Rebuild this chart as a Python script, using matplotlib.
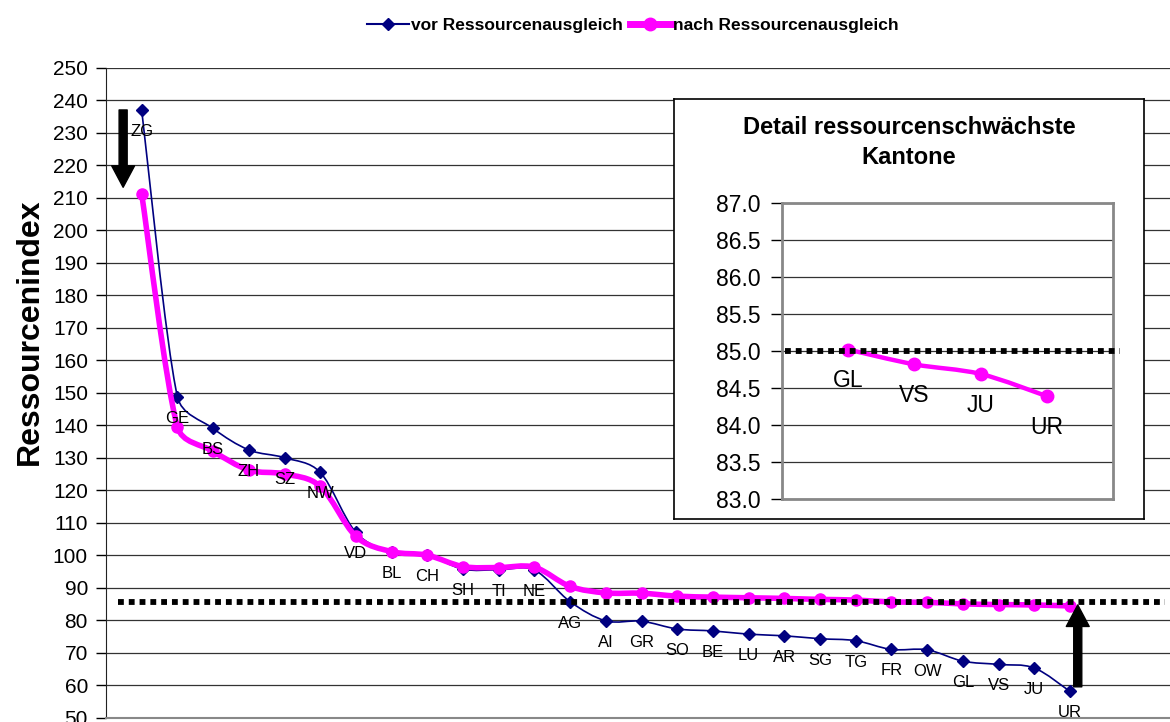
import numpy as np
import matplotlib
matplotlib.use('Agg')
import matplotlib.pyplot as plt
from matplotlib.path import Path
from matplotlib.patches import PathPatch
from matplotlib.lines import Line2D

plt.rcParams['font.family'] = ['Liberation Sans', 'DejaVu Sans']

# Daten
kantone = ['ZG', 'GE', 'BS', 'ZH', 'SZ', 'NW', 'VD', 'BL', 'CH', 'SH', 'TI', 'NE', 'AG', 'AI',
           'GR', 'SO', 'BE', 'LU', 'AR', 'SG', 'TG', 'FR', 'OW', 'GL', 'VS', 'JU', 'UR']
vor = [236.9, 148.8, 139.0, 132.4, 130.0, 125.5, 107.0, 101.0, 100.0, 95.7, 95.5, 95.4, 85.7, 79.8,
       79.7, 77.3, 76.7, 75.7, 75.2, 74.3, 73.7, 71.0, 70.9, 67.4, 66.4, 65.3, 58.1]
nach = [211.1, 139.5, 132.0, 126.2, 125.0, 121.2, 105.8, 101.1, 100.0, 96.5, 96.2, 96.3, 90.4, 88.4,
        88.3, 87.4, 87.1, 86.9, 86.7, 86.4, 86.2, 85.6, 85.5, 85.02, 84.82, 84.69, 84.39]
schwelle = 85.0
detail_n = 4  # die letzten vier Kantone im Detail

BLAU = '#000080'
PINK = '#FF00FF'


def smooth_path(ax, x, y, limit=0.4):
    # Bezier-Glaettung aehnlich Excel, in Pixeln gerechnet, Tangenten begrenzt
    pts = ax.transData.transform(np.column_stack([x, y]).astype(float))
    n = len(pts)
    verts = [pts[0]]
    codes = [Path.MOVETO]

    def tang(a, b, seg):
        t = (b - a) / 6.0
        L = np.hypot(*t)
        m = limit * seg
        if L > m and L > 0:
            t = t * m / L
        return t

    for i in range(n - 1):
        p0 = pts[i - 1] if i > 0 else pts[i]
        p1 = pts[i]
        p2 = pts[i + 1]
        p3 = pts[i + 2] if i + 2 < n else pts[i + 1]
        seg = np.hypot(*(p2 - p1))
        verts += [p1 + tang(p0, p2, seg), p2 - tang(p1, p3, seg), p2]
        codes += [Path.CURVE4] * 3
    verts = ax.transData.inverted().transform(np.array(verts))
    return Path(verts, codes)


W, H = 1170, 722
fig = plt.figure(figsize=(W / 100, H / 100), dpi=100)

def px_rect(x0, y0, x1, y1):
    return [x0 / W, 1 - y1 / H, (x1 - x0) / W, (y1 - y0) / H]

ax = fig.add_axes(px_rect(106, 67.7, 1170, 717.7))
xs = np.arange(1, len(kantone) + 1)

ax.set_ylim(50, 250)
ax.set_xlim(0, 1 + (1170 - 141.7) / 35.7)
ax.set_yticks(np.arange(50, 251, 10))
ax.set_xticks([])
ax.tick_params(axis='y', labelsize=15, length=7, width=1, pad=6, direction='out')
ax.yaxis.grid(True, color='#333333', lw=0.9, zorder=0)
ax.set_axisbelow(True)
for s in ['top', 'right']:
    ax.spines[s].set_visible(False)
ax.spines['left'].set_color('#222222')
ax.spines['bottom'].set_color('#888888')
ax.spines['bottom'].set_linewidth(1.5)

# Linien
ax.add_patch(PathPatch(smooth_path(ax, xs, vor), fill=False, edgecolor=BLAU, lw=1.2, zorder=3))
ax.plot(xs, vor, ls='none', marker='D', ms=6, color=BLAU, zorder=3.5)
ax.add_patch(PathPatch(smooth_path(ax, xs, nach), fill=False, edgecolor=PINK, lw=4.0,
                       capstyle='round', joinstyle='round', zorder=4))
ax.plot(xs, nach, ls='none', marker='o', ms=8, color=PINK, zorder=4.5)

# Schwelle 85
ax.plot([0.34, 29.66], [schwelle + 0.6, schwelle + 0.6], color='black', lw=4.2,
        ls=(0, (1, 0.85)), dash_capstyle='butt', zorder=5)

# Beschriftungen unter den Punkten
for x, v, k in zip(xs, vor, kantone):
    ax.annotate(k, (x, v), xytext=(0, -15.5), textcoords='offset points',
                ha='center', va='center', fontsize=12, zorder=7)

# Pfeile
pfeil = dict(arrowstyle='simple,head_length=1.55,head_width=1.65,tail_width=0.58',
             color='black', shrinkA=0, shrinkB=0, mutation_scale=10)
ax.annotate('', xy=(0.48, 213.2), xytext=(0.48, 237.0), arrowprops=pfeil, zorder=6)
ax.annotate('', xy=(27.22, 84.7), xytext=(27.22, 59.5), arrowprops=pfeil, zorder=6)

fig.text(30 / W, 1 - 332 / H, 'Ressourcenindex', rotation=90, ha='center', va='center',
         fontsize=23, fontweight='bold')

# Legende
h1 = Line2D([], [], color=BLAU, lw=1.5, marker='D', ms=6.5)
h2 = Line2D([], [], color=PINK, lw=5.0, marker='o', ms=9)
fig.legend([h1, h2], ['vor Ressourcenausgleich', 'nach Ressourcenausgleich'],
           loc='center', bbox_to_anchor=(633 / W, 1 - 25 / H), ncol=2, frameon=False,
           prop=dict(weight='bold', size=12.5), handlelength=2.4, handletextpad=0.1,
           columnspacing=0.4)

# Detail-Kasten
box = fig.add_axes(px_rect(674, 99, 1144, 519), zorder=10)
box.set_xticks([])
box.set_yticks([])
box.set_facecolor('white')
for s in box.spines.values():
    s.set_color('black')
    s.set_linewidth(1.2)
box.text(0.5, 1 - (128 - 99) / 420, 'Detail ressourcenschwächste', transform=box.transAxes,
         ha='center', va='center', fontsize=17, fontweight='bold')
box.text(0.5, 1 - (158 - 99) / 420, 'Kantone', transform=box.transAxes,
         ha='center', va='center', fontsize=17, fontweight='bold')

ins = fig.add_axes(px_rect(781.7, 202.7, 1113.3, 499.3), zorder=11)
dk = kantone[-detail_n:]
dn = nach[-detail_n:]
dx = np.arange(1, detail_n + 1)
ins.set_xlim(0, 5)
ins.set_ylim(83, 87)
ins.set_yticks(np.arange(83, 87.01, 0.5))
ins.set_yticklabels([f'{t:.1f}' for t in np.arange(83, 87.01, 0.5)])
ins.set_xticks([])
ins.tick_params(axis='y', labelsize=16.5, length=8, width=1, pad=7, direction='out')
ins.yaxis.grid(True, color='#333333', lw=0.9)
ins.set_axisbelow(True)
for s in ins.spines.values():
    s.set_color('#888888')
    s.set_linewidth(2)
ins.add_patch(PathPatch(smooth_path(ins, dx, dn), fill=False, edgecolor=PINK, lw=3.2, zorder=3))
ins.plot(dx, dn, ls='none', marker='o', ms=9, color=PINK, zorder=3.5)
ins.plot([0.05, 5.1], [schwelle, schwelle], color='black', lw=4.2, ls=(0, (1, 0.85)),
         dash_capstyle='butt', zorder=4, clip_on=False)
for x, v, k in zip(dx, dn, dk):
    ins.annotate(k, (x, v), xytext=(0, -22.5), textcoords='offset points',
                 ha='center', va='center', fontsize=16.5, zorder=6)

fig.savefig('out.png', dpi=100)
